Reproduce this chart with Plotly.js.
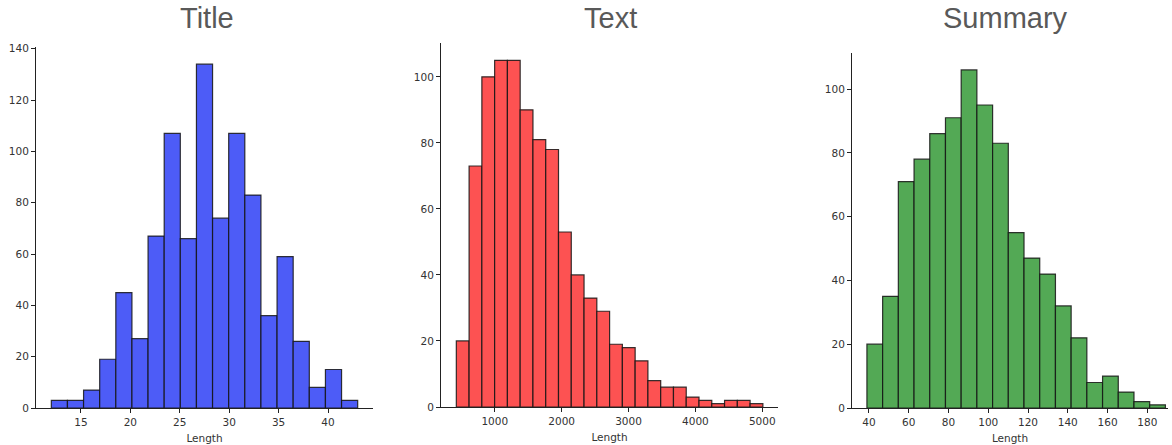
<!DOCTYPE html>
<html>
<head>
<meta charset="utf-8">
<script src="https://cdn.plot.ly/plotly-3.0.1.min.js"></script>
<style>html,body{margin:0;padding:0;background:#fff;}#chart{width:1172px;height:445px;}</style>
</head>
<body>
<div id="chart"></div>
<script>
// ---- Data ----
const panelTitles = ["Title", "Text", "Summary"];
const xLabel = "Length";

// Title length histogram
const titleBinStart = 12;
const titleBinWidth = 31 / 19;
const titleCounts = [3, 3, 7, 19, 45, 27, 67, 107, 66, 134, 74, 107, 83, 36, 59, 26, 8, 15, 3];

// Text length histogram
const textBinStart = 425;
const textBinWidth = 191;
const textCounts = [20, 73, 100, 105, 105, 90, 81, 78, 53, 40, 33, 29, 19, 18, 14, 8, 6, 6, 3, 2, 1, 2, 2, 1];

// Summary length histogram
const summaryBinStart = 39;
const summaryBinWidth = 7.9;
const summaryCounts = [20, 35, 71, 78, 86, 91, 106, 95, 83, 55, 47, 42, 32, 22, 8, 10, 5, 2, 1];

const titleTicks = [15, 20, 25, 30, 35, 40];
const textTicks = [1000, 2000, 3000, 4000, 5000];
const summaryTicks = [40, 60, 80, 100, 120, 140, 160, 180];
const titleYTicks = [0, 20, 40, 60, 80, 100, 120, 140];
const textYTicks = [0, 20, 40, 60, 80, 100];
const summaryYTicks = [0, 20, 40, 60, 80, 100];

// ---- Build ----
const W = 1172, H = 445;
function centers(start, width, counts) {
  return counts.map((_, i) => start + width * (i + 0.5));
}
function barTrace(start, width, counts, color, ax) {
  return {
    type: "bar",
    x: centers(start, width, counts),
    y: counts,
    width: counts.map(() => width),
    marker: { color: color, line: { color: "rgba(20,20,20,0.85)", width: 1.2 } },
    xaxis: "x" + ax, yaxis: "y" + ax,
    hoverinfo: "x+y",
    showlegend: false
  };
}

const data = [
  barTrace(titleBinStart, titleBinWidth, titleCounts, "#4d5cf7", ""),
  barTrace(textBinStart, textBinWidth, textCounts, "#fd5252", "2"),
  barTrace(summaryBinStart, summaryBinWidth, summaryCounts, "#53a955", "3")
];

const tickFont = { family: "DejaVu Sans, sans-serif", size: 10.5, color: "#333" };
function xax(l, r, range, ticks, anchor) {
  return {
    domain: [l / W, r / W], range: range, anchor: anchor,
    tickmode: "array", tickvals: ticks, ticktext: ticks.map(String),
    ticks: "outside", ticklen: 4, tickwidth: 1, tickcolor: "#222",
    showline: true, linecolor: "#222", linewidth: 1,
    showgrid: false, zeroline: false, tickfont: tickFont,
    title: { text: xLabel, font: tickFont, standoff: 8 }
  };
}
function yax(top, bottom, range, ticks, anchor) {
  return {
    domain: [(H - bottom) / H, (H - top) / H], range: range, anchor: anchor,
    tickmode: "array", tickvals: ticks, ticktext: ticks.map(String),
    ticks: "outside", ticklen: 4, tickwidth: 1, tickcolor: "#222",
    showline: true, linecolor: "#222", linewidth: 1,
    showgrid: false, zeroline: false, tickfont: tickFont
  };
}

const titleFont = { family: "Liberation Sans, Arial, sans-serif", size: 29, color: "#595959" };
function titleAnn(text, xc) {
  return { text: text, x: xc / W, y: (H - 18) / H, xref: "paper", yref: "paper",
           xanchor: "center", yanchor: "middle", showarrow: false, font: titleFont };
}

const layout = {
  width: W, height: H,
  margin: { l: 0, r: 0, t: 0, b: 0 },
  paper_bgcolor: "#fff", plot_bgcolor: "#fff",
  bargap: 0,
  xaxis: xax(36, 373, [10.45, 44.55], titleTicks, "y"),
  yaxis: yax(47, 408, [0, 140.7], titleYTicks, "x"),
  xaxis2: xax(441, 778, [196, 5235], textTicks, "y2"),
  yaxis2: yax(43, 407, [0, 110.25], textYTicks, "x2"),
  xaxis3: xax(852, 1168, [31.5, 190.4], summaryTicks, "y3"),
  yaxis3: yax(53, 408, [0, 111.3], summaryYTicks, "x3"),
  annotations: [
    titleAnn(panelTitles[0], 207),
    titleAnn(panelTitles[1], 610),
    titleAnn(panelTitles[2], 1005)
  ]
};

Plotly.newPlot("chart", data, layout, { displayModeBar: false, staticPlot: true });
</script>
</body>
</html>
